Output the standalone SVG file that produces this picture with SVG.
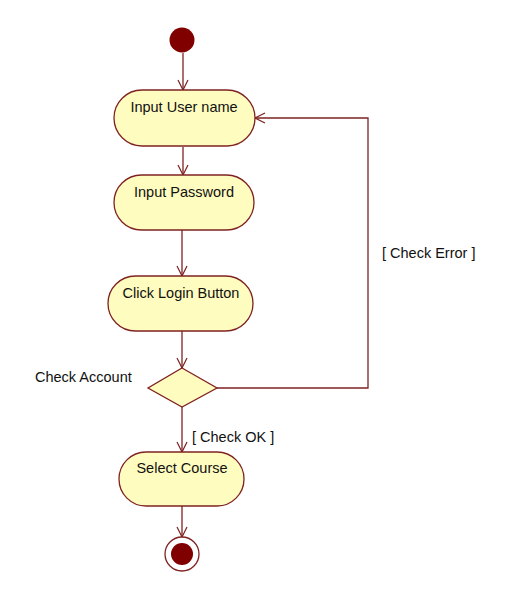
<svg xmlns="http://www.w3.org/2000/svg" width="513" height="600" viewBox="0 0 513 600">
<style>
.act{fill:#fffcbf;stroke:#7f2222;stroke-width:1.3}
.lbl{font-family:"Liberation Sans",Arial,sans-serif;font-size:14.5px;fill:#111}
.edge{fill:none;stroke:#7f2222;stroke-width:1.3}
</style>
<defs>
<marker id="open" viewBox="0 0 12 12" refX="11" refY="6" markerWidth="12" markerHeight="12" markerUnits="userSpaceOnUse" orient="auto">
<path d="M1,1 L11,6 L1,11" fill="none" stroke="#7f2222" stroke-width="1.2"/>
</marker>
</defs>
<rect width="513" height="600" fill="#ffffff"/>
<g id="connectors">
<line class="edge" x1="183" y1="53" x2="183" y2="90" marker-end="url(#open)"/>
<line class="edge" x1="183" y1="147" x2="183" y2="175" marker-end="url(#open)"/>
<line class="edge" x1="182" y1="230" x2="182" y2="276" marker-end="url(#open)"/>
<line class="edge" x1="182" y1="331" x2="182" y2="368" marker-end="url(#open)"/>
<line class="edge" x1="182" y1="407" x2="182" y2="452" marker-end="url(#open)"/>
<line class="edge" x1="182" y1="506" x2="182" y2="537" marker-end="url(#open)"/>
<polyline class="edge" points="217,388 368,388 368,118 255,118" marker-end="url(#open)"/>
<text class="lbl" x="382" y="258">[ Check Error ]</text>
<text class="lbl" x="192" y="442">[ Check OK ]</text>
</g>
<g id="start">
<circle cx="182" cy="40" r="12.5" fill="#800000"/>
</g>
<g id="input-user-name">
<rect class="act" x="114" y="90" width="141" height="56" rx="28"/>
<text class="lbl" x="184" y="112" text-anchor="middle">Input User name</text>
</g>
<g id="input-password">
<rect class="act" x="114" y="175" width="140" height="55" rx="27.5"/>
<text class="lbl" x="184" y="197" text-anchor="middle">Input Password</text>
</g>
<g id="click-login">
<rect class="act" x="108" y="276" width="145" height="55" rx="27.5"/>
<text class="lbl" x="181" y="298" text-anchor="middle">Click Login Button</text>
</g>
<g id="check-account">
<polygon class="act" points="182,368 217,388 182,407 148,388"/>
<text class="lbl" x="35" y="382">Check Account</text>
</g>
<g id="select-course">
<rect class="act" x="119" y="452" width="125" height="54" rx="27"/>
<text class="lbl" x="182" y="473" text-anchor="middle">Select Course</text>
</g>
<g id="end">
<circle cx="182" cy="554" r="17" fill="#ffffff" stroke="#7f2222" stroke-width="1.3"/>
<circle cx="182" cy="554" r="11" fill="#800000"/>
</g>
</svg>
